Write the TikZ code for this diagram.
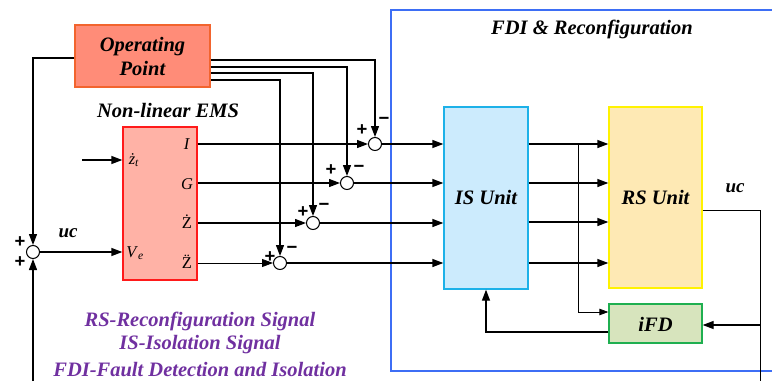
\documentclass[tikz,border=0pt]{standalone}
\usepackage{fontspec}
\setmainfont{Liberation Serif}
\setsansfont{Liberation Sans}
\usetikzlibrary{arrows.meta,calc}
\definecolor{opfill}{HTML}{FF8C78}
\definecolor{opdraw}{HTML}{F2642E}
\definecolor{emsfill}{HTML}{FFB2A6}
\definecolor{emsdraw}{HTML}{FF1A1A}
\definecolor{isfill}{HTML}{CCEBFD}
\definecolor{isdraw}{HTML}{1DB1E8}
\definecolor{rsfill}{HTML}{FEE9B4}
\definecolor{rsdraw}{HTML}{FFF200}
\definecolor{ifdfill}{HTML}{D7E4BD}
\definecolor{ifddraw}{HTML}{1FAF50}
\definecolor{fdiblue}{HTML}{3D6EF5}
\definecolor{legpurple}{HTML}{7030A0}
\tikzset{
  wire/.style={line width=1.3pt},
  thinwire/.style={line width=0.8pt},
  sig/.style={wire,-{Triangle[length=11pt,width=8pt]}},
  thinsig/.style={thinwire,-{Triangle[length=9pt,width=6.5pt]}},
  blk/.style={draw,line width=1.3pt,inner sep=0pt},
  sumc/.style={circle,draw,line width=1pt,fill=white,minimum size=13pt,inner sep=0pt},
  bi/.style={font=\fontsize{20.5}{24}\selectfont\bfseries\itshape,inner sep=0pt,align=center},
  port/.style={font=\fontsize{16.5}{18}\selectfont,inner sep=0pt},
  pm/.style={font=\fontsize{18.5}{18}\selectfont\bfseries\sffamily,inner sep=0pt},
  leg/.style={font=\fontsize{20.5}{24}\selectfont\bfseries\itshape,text=legpurple,inner sep=0pt}
}
\begin{document}
\begin{tikzpicture}[x=1pt,y=-1pt]
\useasboundingbox (0,0) rectangle (772,381);
% FDI frame
\draw[fdiblue,line width=1.2pt] (772,10) -- (391,10) -- (391,371) -- (772,371);
\node[bi] (fditxt) at (592,29) {FDI \& Reconfiguration};
% blocks
\node[blk,draw=opdraw,fill=opfill,minimum width=135pt,minimum height=62pt] (op) at (142.5,56) {};
\node[bi] (optxt) at (142.5,56) {Operating\\Point};
\node[bi] (emstxt) at (168,110) {Non-linear EMS};
\node[blk,draw=emsdraw,fill=emsfill,minimum width=74pt,minimum height=153pt] (ems) at (160,203.5) {};
\node[port] (pI) at (187,144) {\textit{I}};
\node[port] (pG) at (187,184) {\textit{G}};
\node[port] (pZd) at (187,222) {\.{Z}};
\node[port] (pZdd) at (187,262) {\"{Z}};
\node[port] (pzt) at (134,160) {\textit{\.{z}}\textsubscript{\textit{t}}};
\node[port] (pVe) at (135,253) {\textit{V}\textsubscript{\textit{e}}};
\node[blk,draw=isdraw,fill=isfill,minimum width=84pt,minimum height=182pt] (is) at (486,198) {};
\node[bi] (istxt) at (486,197) {IS Unit};
\node[blk,draw=rsdraw,fill=rsfill,minimum width=93pt,minimum height=181pt] (rs) at (655.5,197.5) {};
\node[bi] (rstxt) at (655.5,197) {RS Unit};
\node[blk,draw=ifddraw,fill=ifdfill,minimum width=93pt,minimum height=39pt] (ifd) at (655.5,323.5) {};
\node[bi] (ifdtxt) at (655.5,324) {iFD};
% summing junctions
\node[sumc] (s0) at (33,252) {};
\node[sumc] (s1) at (375,144) {};
\node[sumc] (s2) at (347,183) {};
\node[sumc] (s3) at (313,223) {};
\node[sumc] (s4) at (280,263) {};
% signs
\node[pm] (p0a) at (20,242) {+};
\node[pm] (p0b) at (20,262) {+};
\node[pm] (p1a) at (362,130) {+};
\node[pm] (m1) at (384,121) {−};
\node[pm] (p2a) at (331,170) {+};
\node[pm] (m2) at (359,169) {−};
\node[pm] (p3a) at (303,212) {+};
\node[pm] (m3) at (324,207) {−};
\node[pm] (p4a) at (270,257) {+};
\node[pm] (m4) at (292,250) {−};
% labels
\node[bi,font=\fontsize{19}{20}\selectfont\bfseries\itshape] (uc1) at (68,233) {uc};
\node[bi,font=\fontsize{19}{20}\selectfont\bfseries\itshape] (uc2) at (735,188) {uc};
\node[leg] (l1) at (200,321) {RS-Reconfiguration Signal};
\node[leg] (l2) at (200,345) {IS-Isolation Signal};
\node[leg] (l3) at (200,370) {FDI-Fault Detection and Isolation};
% coordinates
\coordinate (zin) at (82,160);
\coordinate (bot) at (33,381);
\coordinate (br) at (578,144);
\coordinate (tap) at (760,325);
\coordinate (ucend) at (760,381);
% operating point connectors
\draw[sig] (op.west |- 0,58) -| (s0.north);
\draw[sig] (op.east |- 0,60) -| (s1.north);
\draw[sig] (op.east |- 0,67) -| (s2.north);
\draw[sig] (op.east |- 0,73) -| (s3.north);
\draw[sig] (op.east |- 0,80) -| (s4.north);
% EMS inputs
\draw[sig] (zin) -- (ems.west |- zin);
\draw[sig] (s0.east) -- (ems.west |- s0);
\draw[sig] (bot) -- (s0.south);
% EMS outputs
\draw[sig] (ems.east |- s1) -- (s1.west);
\draw[sig] (ems.east |- s2) -- (s2.west);
\draw[sig] (ems.east |- s3) -- (s3.west);
\draw[sig,thinwire] (ems.east |- s4) -- (s4.west);
% to IS
\draw[sig] (s1.east) -- (is.west |- s1);
\draw[sig] (s2.east) -- (is.west |- s2);
\draw[sig] (s3.east) -- (is.west |- s3);
\draw[sig] (s4.east) -- (is.west |- s4);
% IS to RS
\draw[sig] (is.east |- s1) -- (rs.west |- s1);
\draw[sig] (is.east |- s2) -- (rs.west |- s2);
\draw[sig] (is.east |- 0,222) -- (rs.west |- 0,222);
\draw[sig] (is.east |- s4) -- (rs.west |- s4);
% branch to iFD
\draw[thinsig] (br) |- (ifd.west |- 0,312);
% iFD to IS
\draw[sig] (ifd.west |- 0,332) -| (is.south);
% RS output
\draw[thinwire] (rs.east |- 0,210) -| (ucend);
\draw[sig] (tap) -- (ifd.east |- tap);
\end{tikzpicture}
\end{document}
